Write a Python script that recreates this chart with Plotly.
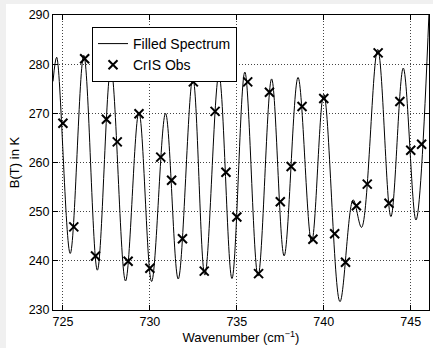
import plotly.graph_objects as go

# Filled spectrum: read-off extremes (wavenumber, brightness temperature)
spec_wn = [724.43, 724.64, 725.42, 726.20, 726.98, 727.76, 728.60, 729.37, 730.10,
           730.90, 731.63, 732.47, 733.16, 733.97, 734.72, 735.46, 736.22, 737.00,
           737.72, 738.52, 739.30, 740.00, 740.93, 741.69, 742.17, 743.10, 743.86,
           744.57, 745.30, 746.05]
spec_bt = [276.5, 281.4, 241.5, 281.8, 238.1, 279.2, 235.9, 270.2, 235.8,
           270.0, 236.3, 277.2, 237.1, 277.9, 236.4, 278.4, 236.9, 277.0,
           241.0, 277.3, 243.8, 273.9, 231.7, 252.4, 246.8, 283.0, 249.0,
           279.2, 248.3, 290.5]

# CrIS observations
obs_wn = [725.0, 725.625, 726.25, 726.875, 727.5, 728.125, 728.75, 729.375, 730.0,
          730.625, 731.25, 731.875, 732.5, 733.125, 733.75, 734.375, 735.0, 735.625,
          736.25, 736.875, 737.5, 738.125, 738.75, 739.375, 740.0, 740.625, 741.25,
          741.875, 742.5, 743.125, 743.75, 744.375, 745.0, 745.625]
obs_bt = [268.0, 246.9, 281.1, 241.0, 268.8, 264.2, 239.9, 269.9, 238.5,
          261.1, 256.4, 244.5, 276.4, 237.9, 270.4, 258.0, 248.9, 276.4,
          237.4, 274.3, 252.0, 259.2, 271.4, 244.4, 273.0, 245.5, 239.7,
          251.2, 255.6, 282.3, 251.7, 272.4, 262.5, 263.7]

x_ticks = [725, 730, 735, 740, 745]
y_ticks = [230, 240, 250, 260, 270, 280, 290]

W, H = 433, 348
L, R, T, B = 53, 4, 15, 38
pw, ph = W - L - R, H - T - B

def px2x(p):
    return (p - L) / pw

def py2y(p):
    return (H - B - p) / ph

FONT = "Liberation Sans, Arial, sans-serif"

fig = go.Figure()
fig.add_trace(go.Scatter(
    x=spec_wn, y=spec_bt, mode="lines", name="Filled Spectrum",
    line=dict(color="black", width=1, shape="spline", smoothing=1.0),
))
fig.add_trace(go.Scatter(
    x=obs_wn, y=obs_bt, mode="markers", name="CrIS Obs",
    marker=dict(symbol="x-thin", size=9, color="black",
                line=dict(color="black", width=2)),
))

axis_common = dict(
    showline=True, linecolor="black", linewidth=1, mirror="allticks",
    ticks="inside", ticklen=5, tickcolor="black",
    showgrid=True, gridcolor="#444444", griddash="1px,2px", gridwidth=1,
    zeroline=False,
    tickfont=dict(family=FONT, size=12.5, color="black"),
)

fig.update_xaxes(range=[724.43, 746.05], tickvals=x_ticks,
                 title=dict(text="Wavenumber (cm<sup>\u22121</sup>)", standoff=2,
                            font=dict(family=FONT, size=13, color="black")),
                 **axis_common)
fig.update_yaxes(range=[230, 290], tickvals=y_ticks,
                 title=dict(text="B(T) in K", standoff=6,
                            font=dict(family=FONT, size=13, color="black")),
                 **axis_common)

fig.add_shape(type="rect", xref="paper", yref="paper",
              x0=px2x(6), x1=px2x(W + 2), y0=py2y(H + 2), y1=py2y(4),
              fillcolor="white", line=dict(width=0), layer="below")

fig.update_layout(
    width=W, height=H,
    margin=dict(l=L, r=R, t=T, b=B, pad=0),
    paper_bgcolor="#f0f0f0", plot_bgcolor="white",
    font=dict(family=FONT, size=12, color="black"),
    showlegend=True,
    legend=dict(x=px2x(92), y=py2y(27), xanchor="left", yanchor="top",
                bgcolor="white", bordercolor="black", borderwidth=1,
                font=dict(size=14), tracegroupgap=0, itemwidth=30),
)

fig.write_html("out.html")
